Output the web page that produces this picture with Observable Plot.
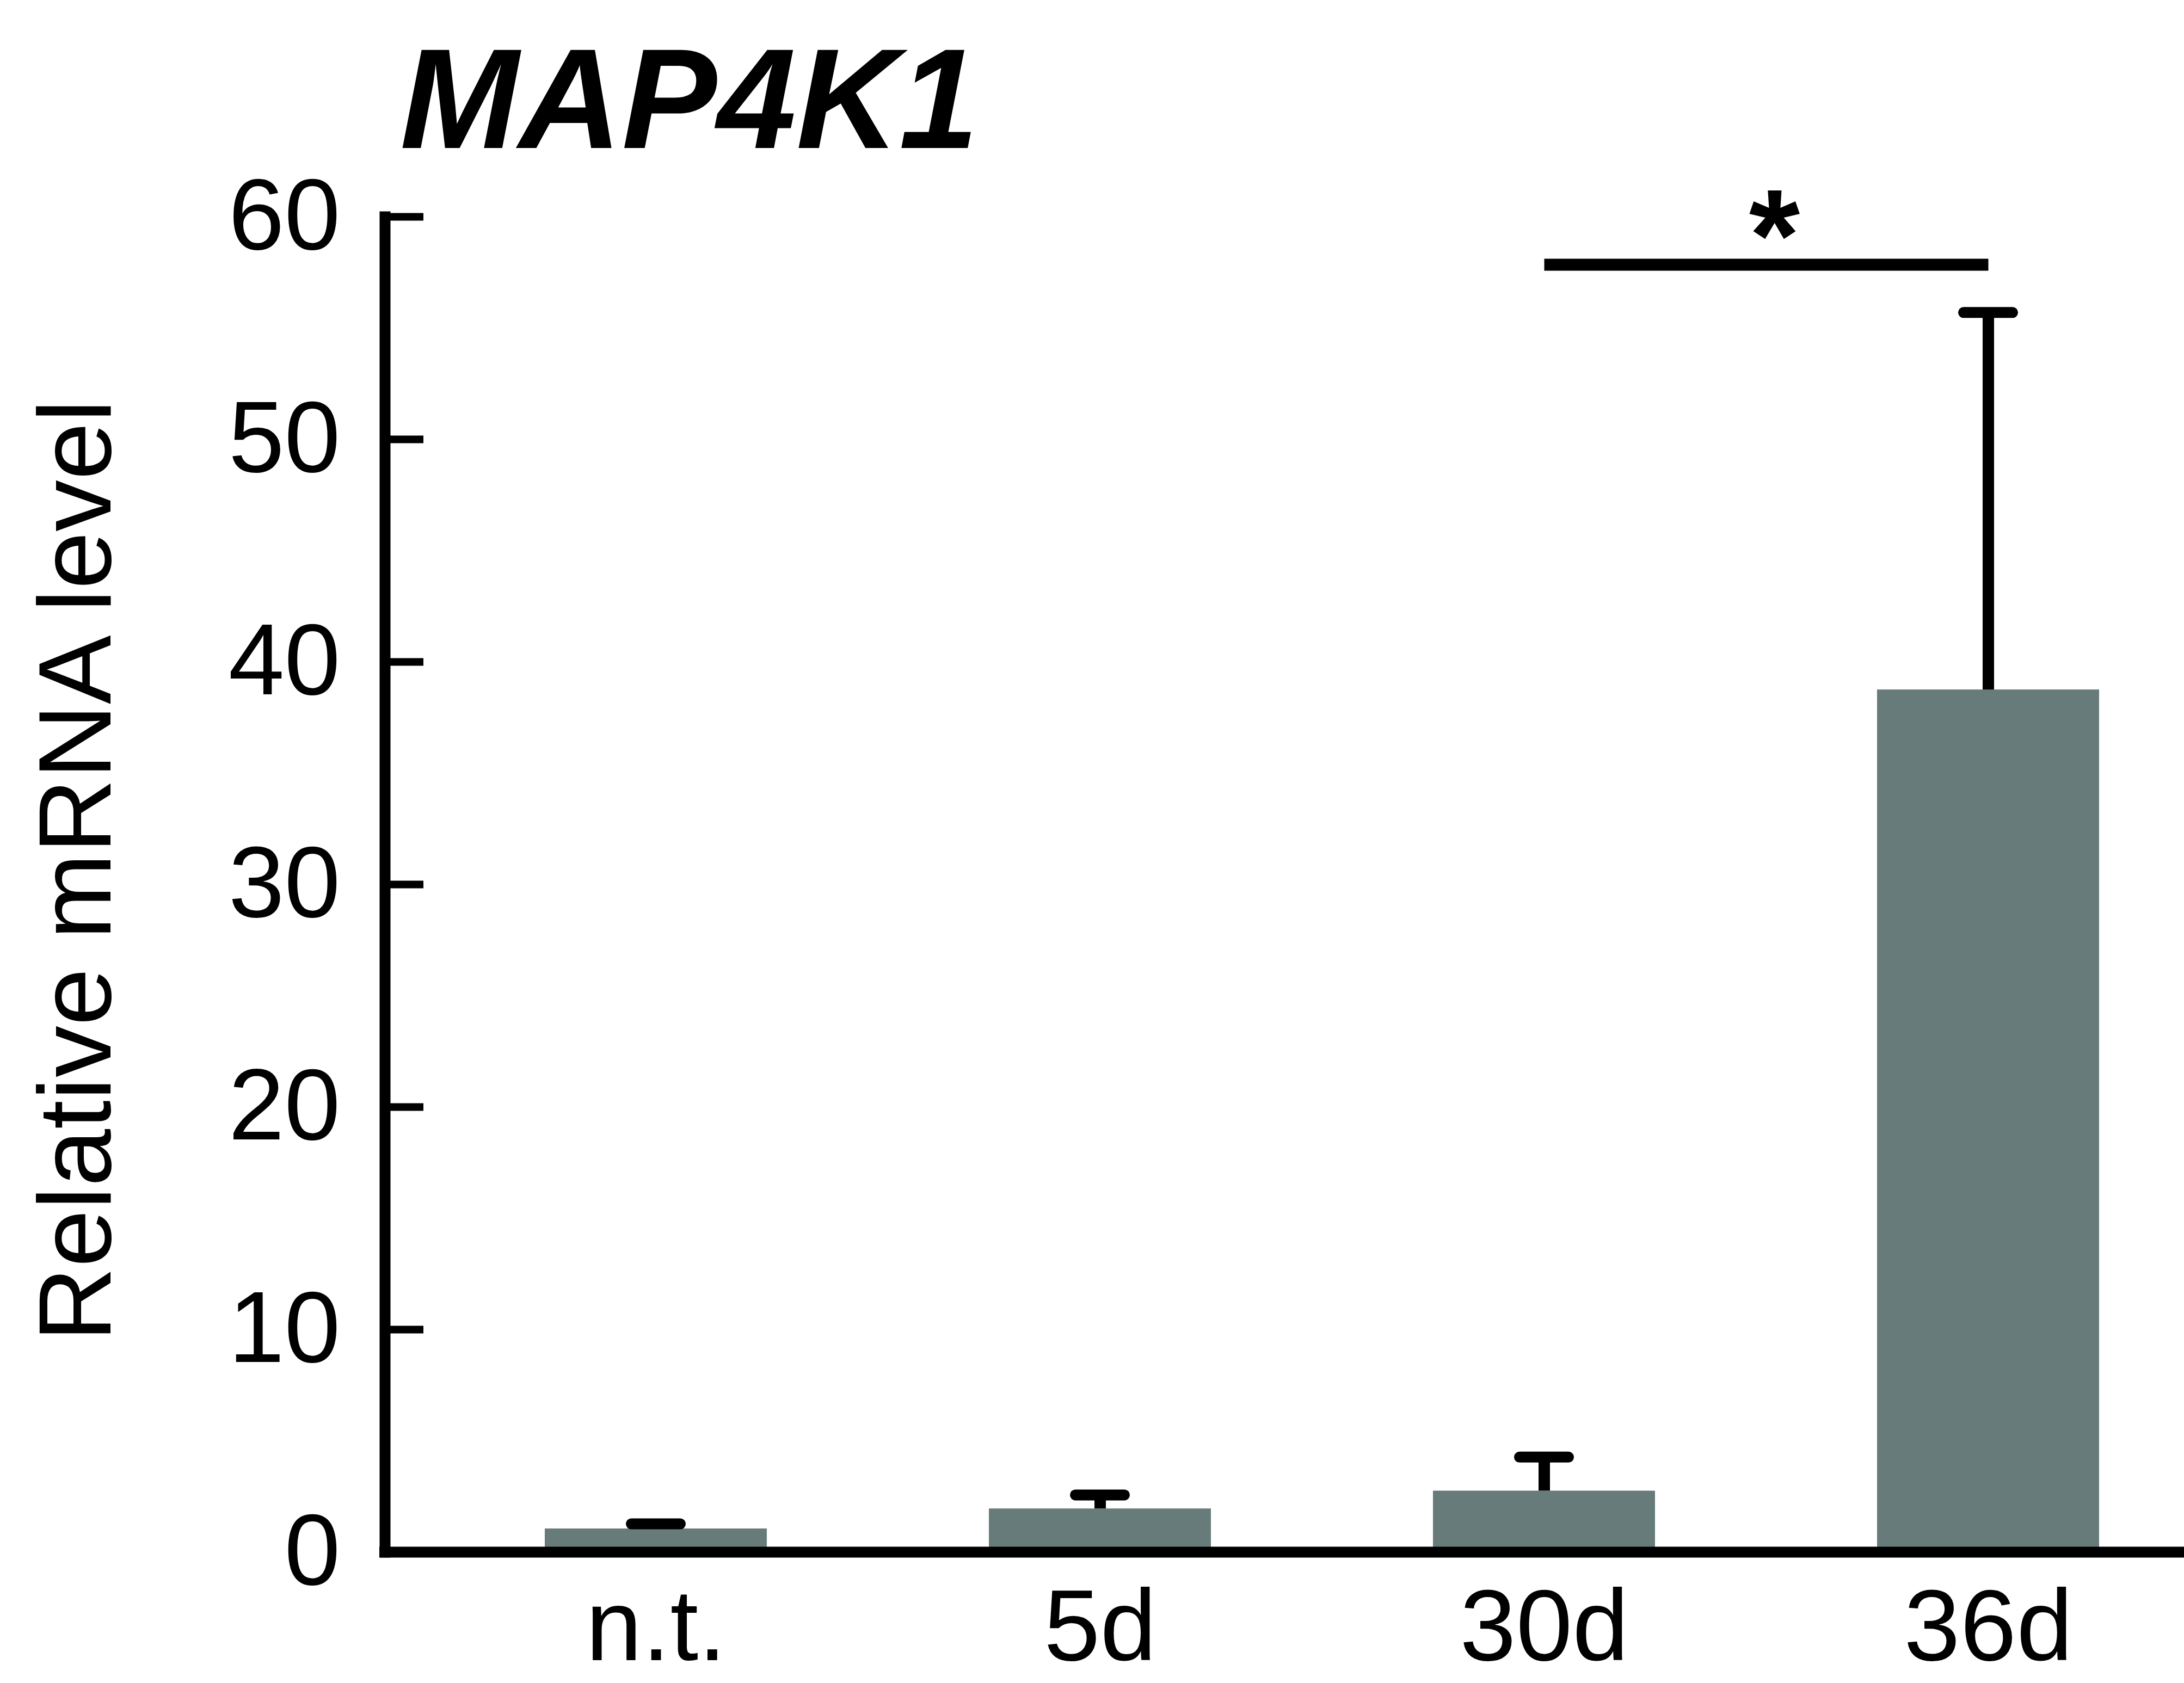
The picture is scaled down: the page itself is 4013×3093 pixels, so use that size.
<!DOCTYPE html>
<html><head><meta charset="utf-8">
<script src="https://cdn.jsdelivr.net/npm/d3@7"></script>
<script src="https://cdn.jsdelivr.net/npm/@observablehq/plot@0.6"></script>
<style>
html,body{margin:0;padding:0;background:#fff;}
#chart{position:relative;width:4013px;height:3093px;}
</style>
</head><body><div id="chart"></div>
<script>
// ---- data ----
const titleText = "MAP4K1";
const yLabel = "Relative mRNA level";
const categories = ["n.t.", "5d", "30d", "36d"];
const means = [1.05, 1.95, 2.75, 38.75];
const upperErrors = [1.27, 2.57, 4.27, 55.7];
const yTicks = [0, 10, 20, 30, 40, 50, 60];
const sigFrom = "30d";
const sigTo = "36d";
const sigLevel = 57.85;
const sigLabel = "*";

// ---- tables built from the arrays ----
const data = categories.map((c, i) => ({cat: c, mean: means[i], upper: upperErrors[i]}));
const sig = [{from: sigFrom, to: sigTo, y: sigLevel, label: sigLabel}];

// ---- layout ----
const W = 4013, H = 3093, mL = 707, mT = 398, mB = 241;
const frameW = W - mL;
const font = "'Liberation Sans', Arial, Helvetica, sans-serif";
const barColor = "#677c7a";

const chart = Plot.plot({
  width: W,
  height: H,
  marginLeft: mL,
  marginRight: 0,
  marginTop: mT,
  marginBottom: mB,
  style: {fontFamily: font, background: "white", color: "black", overflow: "visible"},
  x: {domain: categories, range: [797, 4061], paddingInner: 0.5, paddingOuter: 0.25, label: null},
  y: {domain: [0, 60], label: null},
  marks: [
    Plot.barY(data, {x: "cat", y: "mean", fill: barColor}),
    Plot.ruleX(data, {x: "cat", y1: "mean", y2: "upper", stroke: "black", strokeWidth: 21}),
    Plot.tickY(data, {x: "cat", y: "upper", stroke: "black", strokeWidth: 20, insetLeft: 159, insetRight: 159, strokeLinecap: "round"}),
    Plot.ruleY(yTicks, {y: d => d, stroke: "black", strokeWidth: 14, insetRight: frameW - 71}),
    Plot.ruleY([0], {stroke: "black", strokeWidth: 20, strokeLinecap: "square"}),
    Plot.frame({anchor: "left", stroke: "black", strokeWidth: 20, strokeLinecap: "square"}),
    Plot.axisY(yTicks, {tickSize: 0, tickPadding: 82, fontSize: 185, label: null}),
    Plot.axisX({tickSize: 0, tickPadding: 66, fontSize: 186, label: null}),
    Plot.link(sig, {x1: "from", x2: "to", y1: "y", y2: "y", stroke: "black", strokeWidth: 22, strokeLinecap: "butt"}),
    Plot.text(sig, {x: "from", y: "y", text: "label", dx: 423, dy: 29, lineAnchor: "bottom", fontSize: 240, fontWeight: "bold", fill: "black"})
  ]
});

const svg = d3.select(chart);
svg.append("text")
  .attr("x", 735).attr("y", 272)
  .attr("text-anchor", "start")
  .attr("font-family", font).attr("font-size", 262)
  .attr("font-weight", "bold").attr("font-style", "italic")
  .attr("fill", "black")
  .text(titleText);
svg.append("text")
  .attr("transform", "translate(203,1600) rotate(-90)")
  .attr("text-anchor", "middle")
  .attr("font-family", font).attr("font-size", 190)
  .attr("fill", "black")
  .text(yLabel);

document.getElementById("chart").appendChild(chart);
</script>
</body></html>
